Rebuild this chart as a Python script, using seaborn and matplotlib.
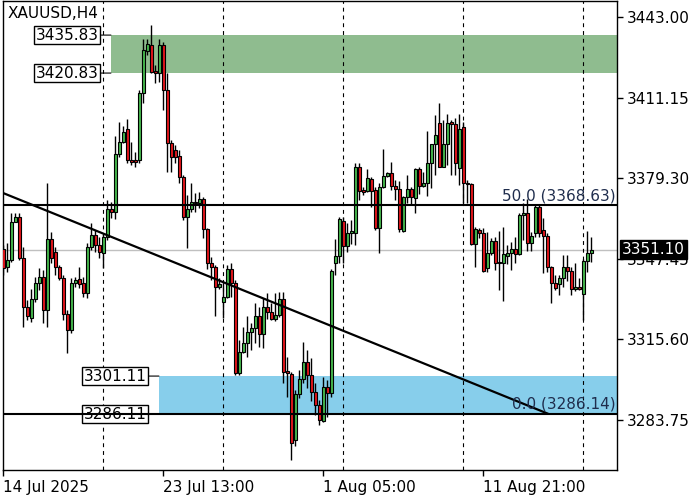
import numpy as np
import pandas as pd
import matplotlib
matplotlib.use("Agg")
import matplotlib.pyplot as plt
from matplotlib.patches import Rectangle
import seaborn as sns

# XAUUSD H4 candles (prices)
opens = [
    3351.2, 3344.1, 3347.0, 3362.1, 3363.9, 3347.7, 3328.3, 3324.1, 3331.5, 3338.0,
    3340.2, 3327.2, 3355.2, 3350.3, 3344.4, 3339.8, 3325.7, 3319.3, 3337.8, 3339.4,
    3337.8, 3333.8, 3352.3, 3356.9, 3352.9, 3349.9, 3356.2, 3367.1, 3366.1, 3388.8,
    3393.7, 3398.8, 3386.5, 3386.5, 3386.5, 3412.9, 3429.7, 3431.9, 3421.8, 3421.0,
    3431.9, 3414.2, 3393.3, 3390.5, 3388.1, 3379.7, 3363.9, 3367.0, 3370.0, 3369.4,
    3371.0, 3359.1, 3345.9, 3344.4, 3336.2, 3330.5, 3332.5, 3343.3, 3338.0, 3302.2,
    3310.8, 3314.3, 3318.7, 3320.0, 3324.9, 3317.8, 3328.5, 3326.6, 3323.6, 3325.3,
    3331.5, 3303.3, 3301.8, 3275.9, 3293.9, 3299.9, 3306.8, 3301.6, 3295.0, 3289.7,
    3283.5, 3296.7, 3294.6, 3345.7, 3348.6, 3362.4, 3352.5, 3357.5, 3357.8, 3383.6,
    3374.7, 3374.4, 3378.9, 3374.7, 3359.8, 3376.0, 3380.3, 3381.3, 3376.4, 3374.9,
    3358.6, 3371.8, 3374.9, 3371.4, 3382.8, 3376.2, 3377.3, 3385.2, 3392.8, 3401.0,
    3383.9, 3392.8, 3401.4, 3400.6, 3383.2, 3399.4, 3377.5, 3376.8, 3353.3, 3358.9,
    3357.8, 3343.7, 3349.9, 3354.6, 3345.9, 3345.7, 3348.6, 3349.6, 3351.2, 3349.3,
    3364.8, 3365.7, 3353.8, 3357.5, 3368.1, 3358.9, 3356.5, 3344.1, 3338.0, 3337.4,
    3339.8, 3344.1, 3342.8, 3335.4, 3336.2, 3333.6, 3346.7, 3349.6,
]
highs = [
    3352.9, 3353.7, 3365.7, 3365.7, 3365.6, 3352.1, 3331.2, 3335.5, 3340.4, 3343.8,
    3343.0, 3377.5, 3358.2, 3352.3, 3345.0, 3341.1, 3327.2, 3339.8, 3340.4, 3344.2,
    3340.4, 3353.6, 3361.5, 3358.9, 3356.2, 3357.3, 3370.7, 3370.0, 3396.0, 3401.6,
    3399.9, 3402.7, 3393.7, 3389.8, 3414.2, 3434.2, 3434.2, 3439.8, 3424.0, 3434.3,
    3433.1, 3420.8, 3394.4, 3392.4, 3390.5, 3380.6, 3372.7, 3377.5, 3373.5, 3374.0,
    3371.9, 3359.6, 3348.3, 3345.0, 3339.8, 3337.8, 3345.0, 3345.7, 3339.1, 3315.4,
    3320.6, 3324.9, 3322.0, 3330.1, 3328.5, 3331.9, 3333.8, 3330.0, 3333.8, 3334.5,
    3334.5, 3308.8, 3302.7, 3295.6, 3303.5, 3314.7, 3311.4, 3308.3, 3298.4, 3291.7,
    3300.9, 3299.6, 3343.4, 3355.2, 3364.1, 3364.1, 3361.6, 3362.8, 3385.4, 3385.4,
    3375.8, 3382.8, 3379.8, 3375.8, 3377.4, 3390.7, 3381.9, 3385.8, 3378.6, 3378.3,
    3372.3, 3380.6, 3375.8, 3383.3, 3383.6, 3381.9, 3398.1, 3390.5, 3404.3, 3409.1,
    3402.3, 3404.7, 3402.3, 3403.0, 3404.7, 3401.6, 3378.6, 3377.4, 3359.9, 3359.5,
    3359.5, 3358.2, 3355.6, 3356.2, 3358.6, 3360.2, 3352.9, 3354.2, 3356.2, 3365.7,
    3369.4, 3371.0, 3358.2, 3368.7, 3368.7, 3363.6, 3357.7, 3344.6, 3341.1, 3341.1,
    3349.0, 3349.0, 3344.4, 3345.9, 3339.8, 3347.3, 3358.6, 3356.2,
]
lows = [
    3341.1, 3342.3, 3346.2, 3362.0, 3347.0, 3320.5, 3323.3, 3322.5, 3330.4, 3335.1,
    3322.1, 3320.6, 3345.8, 3341.1, 3339.1, 3323.3, 3310.1, 3318.0, 3336.4, 3335.9,
    3332.5, 3331.9, 3350.9, 3350.3, 3347.7, 3343.7, 3354.9, 3363.5, 3363.1, 3387.7,
    3393.2, 3385.3, 3384.5, 3383.9, 3385.3, 3409.1, 3428.0, 3420.9, 3416.9, 3417.4,
    3406.3, 3381.9, 3381.9, 3385.3, 3377.4, 3362.8, 3351.6, 3366.0, 3366.1, 3367.5,
    3355.6, 3343.4, 3339.1, 3324.9, 3335.5, 3324.0, 3332.0, 3332.5, 3301.6, 3301.6,
    3310.3, 3308.8, 3311.4, 3314.3, 3312.7, 3312.1, 3323.6, 3323.3, 3323.0, 3324.6,
    3298.3, 3292.8, 3268.0, 3273.5, 3292.5, 3298.3, 3296.3, 3291.4, 3285.8, 3281.8,
    3283.0, 3285.1, 3293.0, 3341.1, 3345.9, 3345.7, 3350.3, 3353.3, 3352.9, 3370.7,
    3372.7, 3373.9, 3367.8, 3358.9, 3349.9, 3375.4, 3379.8, 3374.7, 3370.7, 3358.2,
    3358.1, 3369.4, 3368.7, 3365.5, 3373.1, 3375.7, 3372.3, 3375.3, 3380.6, 3383.7,
    3383.6, 3384.5, 3380.6, 3380.6, 3376.6, 3369.4, 3369.4, 3352.9, 3344.4, 3355.6,
    3342.4, 3342.4, 3349.0, 3343.0, 3335.1, 3330.9, 3345.4, 3343.0, 3345.7, 3349.0,
    3354.9, 3350.7, 3350.7, 3356.2, 3356.2, 3342.0, 3342.4, 3329.9, 3335.1, 3333.2,
    3336.4, 3338.8, 3333.2, 3334.9, 3335.1, 3323.3, 3342.4, 3346.3,
]
closes = [
    3343.7, 3347.0, 3362.1, 3363.9, 3347.7, 3328.3, 3324.9, 3331.5, 3338.0, 3340.2,
    3327.2, 3355.2, 3347.7, 3344.4, 3339.8, 3325.7, 3319.3, 3337.8, 3339.1, 3337.5,
    3333.8, 3352.3, 3356.9, 3352.9, 3350.3, 3356.2, 3367.1, 3366.1, 3388.8, 3393.7,
    3397.5, 3386.5, 3385.8, 3385.7, 3412.9, 3430.0, 3432.3, 3421.4, 3421.0, 3431.9,
    3414.2, 3393.3, 3387.6, 3387.8, 3379.7, 3363.9, 3367.0, 3370.0, 3369.4, 3371.0,
    3359.1, 3345.9, 3344.4, 3336.2, 3337.5, 3332.5, 3343.3, 3338.0, 3302.2, 3310.8,
    3314.3, 3318.7, 3320.0, 3324.9, 3317.8, 3328.5, 3326.6, 3323.6, 3325.3, 3331.5,
    3302.9, 3302.2, 3274.8, 3293.9, 3299.9, 3306.8, 3301.6, 3295.0, 3289.7, 3283.8,
    3296.7, 3294.3, 3342.8, 3348.6, 3363.1, 3352.5, 3357.5, 3358.5, 3383.6, 3374.4,
    3373.7, 3379.3, 3374.4, 3359.8, 3376.0, 3380.3, 3381.3, 3376.4, 3374.9, 3359.1,
    3371.8, 3374.9, 3371.8, 3382.8, 3376.2, 3377.3, 3385.2, 3392.8, 3396.4, 3383.9,
    3392.8, 3401.2, 3400.6, 3385.4, 3398.6, 3377.5, 3376.8, 3353.3, 3359.1, 3357.8,
    3342.8, 3349.9, 3354.6, 3345.7, 3345.7, 3349.4, 3349.6, 3351.2, 3349.3, 3364.8,
    3365.7, 3353.8, 3356.5, 3368.1, 3357.8, 3356.5, 3344.4, 3338.0, 3335.8, 3339.8,
    3344.1, 3342.8, 3335.4, 3336.4, 3335.4, 3346.7, 3349.6, 3351.1,
]

tick_bars = [0, 40, 80, 120]
tick_labels = ["14 Jul 2025", "23 Jul 13:00", "1 Aug 05:00", "11 Aug 21:00"]
week_separators = [25, 55, 85, 115, 145]
price_ticks = [3443.00, 3411.15, 3379.30, 3347.45, 3315.60, 3283.75]
last_price = 3351.10
fib_names = ["50.0", "0.0"]
fib_levels = [3368.63, 3286.14]
trend_bars = [0, 136.2]
trend_prices = [3373.4, 3286.2]
zone_starts = [26.9, 38.9]
zone_lows = [3420.83, 3286.11]
zone_highs = [3435.83, 3301.11]
zone_colors = ["#8fbc8f", "#87ceeb"]

sns.set_theme(style="white")
plt.rcParams["font.family"] = ["DejaVu Sans"]
FS = 11

df = pd.DataFrame({"open": opens, "high": highs, "low": lows, "close": closes})
df["bar"] = np.arange(len(df))
df["up"] = df["close"] >= df["open"]

fig = plt.figure(figsize=(7, 5), dpi=100)
ax = fig.add_axes([3 / 700, 30 / 500, 614 / 700, 469 / 500])
x_min, x_max = -0.075, 153.4
ax.set_xlim(x_min, x_max)
ax.set_ylim(3264.0, 3449.3)

# supply / demand zones with boxed price labels
for start, lo, hi, col in zip(zone_starts, zone_lows, zone_highs, zone_colors):
    ax.add_patch(Rectangle((start, lo), x_max - start, hi - lo,
                           facecolor=col, edgecolor="none", zorder=1))
    for level in (hi, lo):
        ax.annotate(f"{level:.2f}", xy=(start, level), xytext=(-9, 0),
                    textcoords="offset points", ha="right", va="center",
                    fontsize=FS, color="black", zorder=6,
                    bbox=dict(boxstyle="square,pad=0.12", fc="white", ec="black", lw=1),
                    arrowprops=dict(arrowstyle="-", color="black", lw=0.8,
                                    shrinkA=0, shrinkB=0))

ax.axhline(last_price, color="#c0c0c0", lw=1, zorder=1.5)
for s in week_separators:
    ax.axvline(s, color="black", lw=0.8, ls=(0, (3.5, 3.5)), zorder=2)

# candles
bodies = np.maximum((df["close"] - df["open"]).abs(), 0.4)
bottoms = np.minimum(df["open"], df["close"])
colors = np.where(df["up"], "#45b64d", "#e3161b")
ax.vlines(df["bar"], df["low"], df["high"], color="black", lw=1, zorder=3)
ax.bar(df["bar"], bodies, bottom=bottoms, width=0.72, color=colors,
       edgecolor="black", linewidth=0.8, zorder=4)

# fibonacci levels and trend line
for name, level in zip(fib_names, fib_levels):
    ax.axhline(level, color="black", lw=1.5, zorder=7)
    ax.annotate(f"{name} ({level:.2f})", xy=(1, level),
                xycoords=("axes fraction", "data"), xytext=(-1, 1.5),
                textcoords="offset points", ha="right", va="bottom",
                fontsize=FS, color="#1f2d4d", zorder=8)
sns.lineplot(x=trend_bars, y=trend_prices, color="black", lw=1.6, ax=ax, zorder=7)

# axes
ax.yaxis.tick_right()
ax.set_yticks(price_ticks)
ax.set_yticklabels([f"{p:.2f}" for p in price_ticks])
ax.set_xticks(tick_bars)
ax.set_xticklabels(tick_labels, ha="left")
ax.tick_params(axis="both", length=4, width=1, color="black", labelsize=FS,
               labelcolor="black", direction="out")
ax.tick_params(axis="y", pad=3, right=True, left=False)
ax.tick_params(axis="x", pad=3, bottom=True)
ax.set_xlabel("")
ax.set_ylabel("")
ax.grid(False)
for side in ["left", "right", "bottom", "top"]:
    ax.spines[side].set_color("black")
    ax.spines[side].set_linewidth(1)

ax.annotate(f"{last_price:.2f}", xy=(1, last_price),
            xycoords=("axes fraction", "data"), xytext=(3.5, 0),
            textcoords="offset points", ha="left", va="center",
            fontsize=FS, color="white", zorder=10, annotation_clip=False,
            bbox=dict(boxstyle="square,pad=0.15", fc="black", ec="black"))

fig.text(8 / 700, 1 - 14 / 500, "XAUUSD,H4", ha="left", va="center",
         fontsize=FS, color="black")

fig.savefig("out.png", dpi=100)
